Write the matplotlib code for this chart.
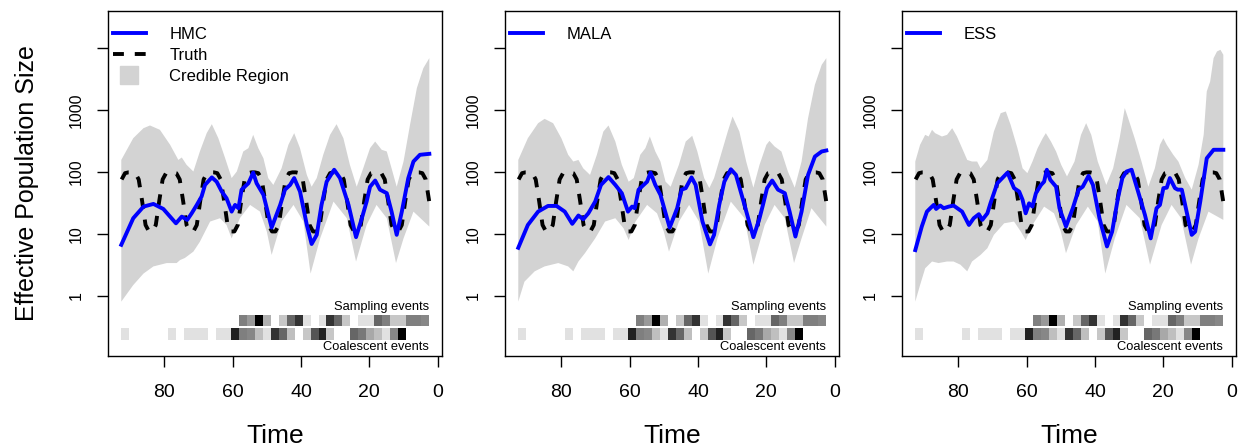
import matplotlib.pyplot as plt
import numpy as np
from matplotlib.lines import Line2D

plt.rcParams['font.family'] = ['Liberation Sans', 'DejaVu Sans']

# ---------- truth (dashed) ----------
truth_t = [2.5, 3.5, 4.5, 5.5, 6.5, 7.5, 8.5, 9.5, 10.5, 11.5, 12.5, 13.5,
           14.5, 15.5, 16.5, 17.5, 18.5, 19.5, 20.5, 21.5, 22.5, 23.5, 24.5, 25.5,
           26.5, 27.5, 28.5, 29.5, 30.5, 31.5, 32.5, 33.5, 34.5, 35.5, 36.5, 37.5,
           38.5, 39.5, 40.5, 41.5, 42.5, 43.5, 44.5, 45.5, 46.5, 47.5, 48.5, 49.5,
           50.5, 51.5, 52.5, 53.5, 54.5, 55.5, 56.5, 57.5, 58.5, 59.5, 60.5, 61.5,
           62.5, 63.5, 64.5, 65.5, 66.5, 67.5, 68.5, 69.5, 70.5, 71.5, 72.5, 73.5,
           74.5, 75.5, 76.5, 77.5, 78.5, 79.5, 80.5, 81.5, 82.5, 83.5, 84.5, 85.5,
           86.5, 87.5, 88.5, 89.5, 90.5, 91.5, 92.5]
truth_v = [34, 76, 96, 99, 99, 96, 76, 34, 14, 11, 11, 14,
           34, 76, 96, 99, 99, 96, 76, 34, 14, 11, 11, 14,
           34, 76, 96, 99, 99, 96, 76, 34, 14, 11, 11, 14,
           34, 76, 96, 99, 99, 96, 76, 34, 14, 11, 11, 14,
           34, 76, 96, 99, 99, 96, 76, 34, 14, 11, 11, 14,
           34, 76, 96, 99, 99, 96, 76, 34, 14, 11, 11, 14,
           34, 76, 96, 99, 99, 96, 76, 34, 14, 11, 11, 14,
           34, 76, 96, 99, 99, 96, 76]

# ---------- HMC ----------
hmc_med_t = [92.6, 89.1, 86.1, 83.2, 80.3, 76.6, 74.9, 73.3, 72.0, 70.5, 69.1, 68.1,
             66.1, 64.7, 63.2, 61.8, 60.3, 59.3, 58.3, 57.4, 55.4, 54.0, 53.0, 51.0,
             48.6, 46.1, 44.7, 43.2, 42.0, 40.3, 38.3, 36.9, 35.4, 34.0, 32.5, 30.3,
             28.6, 26.1, 23.9, 22.2, 20.8, 19.8, 18.3, 16.9, 14.9, 13.5, 12.0, 10.5,
             8.6, 7.1, 5.2, 2.45]
hmc_med_v = [6.7, 18.0, 27.7, 30.6, 25.4, 14.9, 19.1, 16.9, 21.6, 29.5, 40.3, 62,
             82, 70, 48.5, 37.8, 23.0, 29.5, 26.1, 52, 66, 98, 66, 42.9,
             12.7, 29.5, 52, 62, 80, 48.5, 14.0, 6.9, 9.7, 29.5, 70, 109,
             80, 29.5, 8.9, 18.0, 33.4, 58, 73, 52, 45.6, 23.0, 9.7, 23.0,
             80, 148, 190, 197]
hmc_up_t = [92.6, 89.1, 86.1, 84.2, 81.3, 78.3, 75.9, 74.9, 73.5, 71.5, 69.6, 67.6,
            66.1, 64.2, 62.2, 60.3, 58.8, 56.9, 55.4, 54.0, 52.5, 51.0, 49.6, 48.1,
            45.7, 43.7, 42.0, 40.3, 38.3, 36.9, 35.4, 33.5, 31.5, 29.6, 27.6, 25.7,
            23.7, 21.8, 19.8, 18.3, 16.4, 14.9, 13.5, 12.0, 10.0, 8.1, 6.1, 4.2, 2.45]
hmc_up_v = [157, 352, 511, 565, 481, 275, 157, 172, 131, 102, 215, 425,
            593, 352, 167, 80, 102, 215, 243, 399, 243, 167, 80, 62,
            115, 275, 425, 243, 90, 58, 80, 190, 399, 593, 352, 131,
            58, 115, 243, 311, 229, 215, 115, 58, 148, 579, 2265, 4760, 6900]
hmc_lo_t = [92.6, 89.1, 86.1, 83.2, 79.3, 76.4, 75.4, 74.0, 71.5, 69.6, 66.6, 63.7,
            61.8, 60.3, 57.9, 54.9, 52.0, 50.0, 48.6, 45.7, 42.2, 39.3, 37.2, 34.4,
            30.5, 26.6, 23.9, 20.8, 17.9, 14.9, 12.2, 10.0, 7.1, 2.45]
hmc_lo_v = [0.81, 1.5, 2.3, 3.0, 3.4, 3.4, 3.8, 4.1, 5.2, 7.5, 15.9, 18.0,
            14.0, 8.5, 18.0, 29.5, 23.0, 10.9, 4.6, 15.9, 29.5, 15.9, 2.3, 8.5,
            33.4, 18.0, 3.6, 14.0, 29.5, 18.0, 3.4, 8.5, 23.0, 13.2]

# ---------- MALA ----------
mala_med_t = [92.6, 89.8, 86.8, 83.9, 81.4, 79.0, 76.8, 75.0, 73.6, 72.1, 70.1, 68.4,
              66.2, 64.2, 62.3, 60.5, 59.3, 58.5, 57.4, 54.9, 53.9, 52.5, 51.0, 48.3,
              46.1, 44.8, 43.6, 41.9, 40.7, 38.7, 36.5, 35.3, 33.8, 32.3, 30.4, 28.9,
              26.4, 23.8, 22.0, 21.0, 19.8, 18.3, 16.6, 14.6, 13.2, 11.5, 9.7, 7.8,
              5.8, 3.8, 2.45]
mala_med_v = [6.0, 14.0, 23.0, 28.4, 28.4, 23.0, 14.6, 19.9, 17.3, 21.6, 33.4, 62,
              83, 62, 45.6, 23.0, 27.7, 26.1, 52, 70, 98, 62, 42.9, 12.7,
              26.1, 52, 55, 82, 62, 15.9, 6.8, 9.7, 29.5, 70, 111, 90,
              29.5, 8.9, 18.0, 29.5, 55, 73, 52, 45.6, 23.0, 9.1, 23.0, 90,
              178, 215, 223]
mala_up_t = [92.6, 89.8, 86.8, 84.9, 82.4, 80.0, 78.0, 76.5, 75.0, 73.6, 71.6, 69.6,
             67.7, 66.2, 64.2, 62.3, 60.3, 58.8, 56.9, 55.4, 54.1, 52.5, 51.0, 49.5,
             48.0, 45.6, 43.6, 41.7, 40.2, 38.2, 36.7, 35.3, 33.3, 31.3, 29.9, 27.9,
             25.9, 23.8, 22.0, 20.0, 19.1, 17.6, 15.6, 13.7, 11.7, 9.7, 7.8, 5.8, 3.8, 2.45]
mala_up_v = [157, 352, 615, 723, 615, 352, 190, 148, 157, 115, 90, 190,
             451, 565, 311, 131, 70, 80, 190, 243, 375, 215, 148, 70,
             58, 131, 311, 385, 215, 80, 55, 80, 190, 451, 789, 451,
             148, 56, 131, 275, 319, 259, 215, 102, 56, 148, 741, 2564, 5395, 6900]
mala_lo_t = [92.6, 90.8, 87.8, 84.9, 80.9, 78.0, 76.5, 75.0, 73.1, 70.1, 67.2, 64.2,
             61.8, 60.3, 58.3, 54.9, 52.0, 50.0, 48.5, 45.6, 42.6, 39.7, 37.0, 34.3,
             30.4, 26.4, 23.8, 20.5, 17.6, 14.6, 11.9, 9.7, 6.8, 2.45]
mala_lo_v = [0.81, 1.7, 2.5, 3.0, 3.4, 3.0, 2.5, 3.6, 4.9, 8.5, 15.9, 18.0,
             12.4, 8.0, 15.9, 29.5, 21.6, 10.9, 5.2, 15.9, 29.5, 15.9, 2.3, 8.5,
             33.4, 18.0, 3.2, 14.0, 29.5, 18.0, 3.4, 8.5, 26.1, 13.2]

# ---------- ESS ----------
ess_med_t = [92.6, 90.7, 89.2, 88.2, 87.2, 86.5, 85.3, 84.3, 82.8, 81.4, 78.9, 76.9,
             75.5, 74.0, 73.0, 71.5, 70.6, 68.6, 65.6, 63.7, 62.2, 61.2, 60.3, 59.3,
             58.3, 57.3, 55.8, 54.9, 54.1, 53.1, 51.4, 50.4, 48.5, 46.5, 44.8, 43.6,
             41.9, 40.6, 38.7, 36.5, 35.0, 33.3, 32.0, 30.8, 29.3, 27.4, 25.4, 23.7,
             22.0, 21.0, 20.0, 19.0, 18.1, 16.6, 15.8, 14.6, 13.2, 11.7, 10.7, 9.2,
             7.3, 5.3, 2.45]
ess_med_v = [5.5, 13.2, 23.0, 26.1, 29.5, 25.4, 28.8, 26.1, 27.7, 28.8, 23.0, 14.0,
             18.0, 20.9, 16.9, 21.6, 31.3, 66, 98, 55, 48.5, 35.6, 21.6, 31.3,
             27.7, 45.6, 62, 70, 109, 75, 58, 26.1, 13.2, 26.1, 52, 58,
             87, 62, 18.0, 6.3, 10.9, 37.8, 80, 102, 109, 48.5, 20.4, 8.5,
             26.1, 29.5, 55, 56, 80, 55, 52, 52, 23.0, 9.7, 10.9, 33.4,
             167, 229, 229]
ess_up_t = [92.6, 91.2, 89.7, 88.7, 87.7, 86.8, 84.8, 83.3, 81.8, 80.4, 78.9, 77.4,
            76.0, 74.5, 73.5, 71.5, 69.6, 67.6, 66.1, 64.7, 62.7, 61.2, 59.8, 58.3,
            56.8, 55.3, 54.4, 52.9, 51.4, 49.9, 48.2, 46.0, 44.1, 42.6, 41.1, 39.2,
            36.7, 34.7, 32.8, 31.3, 30.3, 28.4, 26.4, 24.4, 22.5, 21.0, 20.0, 19.0,
            17.1, 15.6, 13.6, 11.7, 9.7, 8.2, 7.3, 6.3, 5.3, 4.3, 3.3, 2.45]
ess_up_v = [148, 275, 399, 375, 481, 425, 375, 399, 511, 375, 243, 157,
            148, 148, 115, 157, 451, 893, 951, 579, 243, 115, 96, 148,
            243, 352, 425, 311, 215, 131, 85, 148, 399, 616, 399, 148,
            62, 115, 352, 1076, 741, 352, 148, 58, 115, 275, 352, 275,
            190, 148, 80, 52, 131, 399, 2000, 2900, 6900, 8850, 9420, 7820]
ess_lo_t = [92.6, 91.2, 89.7, 87.7, 85.8, 83.3, 81.4, 79.4, 77.4, 76.0, 73.5, 71.5,
            69.6, 66.6, 63.7, 61.7, 60.3, 58.3, 54.9, 52.0, 50.0, 48.5, 45.5, 42.1,
            39.2, 37.0, 34.2, 30.8, 26.9, 23.9, 20.5, 17.6, 14.8, 11.9, 9.7, 6.8, 2.45]
ess_lo_v = [0.81, 1.5, 2.8, 3.6, 3.4, 3.6, 3.6, 3.2, 2.5, 3.6, 4.6, 5.9,
            9.7, 14.9, 15.9, 10.9, 8.0, 14.0, 27.7, 21.6, 10.9, 4.9, 14.0, 27.7,
            15.9, 2.3, 8.5, 29.5, 18.0, 3.2, 14.0, 29.5, 18.0, 3.2, 8.5, 23.0, 16.9]

# ---------- event heat strips (darkness, 0 = no event), 39 bins, oldest first ----------
sampling_shade = [0, 0, 0, 0, 0, 0, 0, 0, 0, 0, 0, 0, 0, 0, 0,
                  0.5, 0.4, 1.0, 0.31, 0, 0.22, 0.6, 0.8, 0.12, 0, 0.12, 0.8, 0.6,
                  0.22, 0, 0.12, 0.12, 0.6, 0.5, 0.22, 0.22, 0.5, 0.5, 0.47]
coalescent_shade = [0.12, 0, 0, 0, 0, 0, 0.12, 0, 0.12, 0.12, 0.12, 0, 0.12, 0.12,
                    0.87, 0.5, 0.47, 0.25, 0.12, 0.8, 0.6, 0.25, 0, 0.22, 0.67, 0.87,
                    0.22, 0, 0, 0.6, 0.53, 0.34, 0.25, 0.12, 0.47, 1.0, 0, 0, 0]

methods = ['HMC', 'MALA', 'ESS']
panels = [
    (hmc_med_t, hmc_med_v, hmc_up_t, hmc_up_v, hmc_lo_t, hmc_lo_v),
    (mala_med_t, mala_med_v, mala_up_t, mala_up_v, mala_lo_t, mala_lo_v),
    (ess_med_t, ess_med_v, ess_up_t, ess_up_v, ess_lo_t, ess_lo_v),
]

fig = plt.figure(figsize=(12.39, 4.48), dpi=100)
W, H = 1239.0, 448.0
t_start, t_end = 92.8, 2.44
bin_edges = np.linspace(t_start, t_end, len(sampling_shade) + 1)

for i, (name, (mt, mv, ut, uv, lt, lv)) in enumerate(zip(methods, panels)):
    left = 108.3 + 397 * i
    ax = fig.add_axes([left / W, (H - 356) / H, 333.4 / W, 345 / H])

    # credible region polygon
    poly_t = list(ut) + list(lt)[::-1]
    poly_v = list(uv) + list(lv)[::-1]
    ax.fill(poly_t, poly_v, color='lightgray', lw=0, zorder=1)
    ax.plot(truth_t, truth_v, color='black', lw=2.8, ls=(0, (2.8, 2.8)), zorder=2)
    ax.plot(mt, mv, color='blue', lw=2.8, zorder=3, solid_joinstyle='round')

    # event strips
    samp = np.ma.masked_equal([sampling_shade], 0)
    coal = np.ma.masked_equal([coalescent_shade], 0)
    ax.pcolormesh(bin_edges, [0.332, 0.493], samp, cmap='gray_r', vmin=0, vmax=1,
                  shading='flat', antialiased=False, zorder=2)
    ax.pcolormesh(bin_edges, [0.197, 0.30], coal, cmap='gray_r', vmin=0, vmax=1,
                  shading='flat', antialiased=False, zorder=2)
    ax.text(t_end, 0.66, 'Sampling events', ha='right', va='center', fontsize=9.3)
    ax.text(t_end, 0.152, 'Coalescent events', ha='right', va='center', fontsize=9.3)

    ax.set_yscale('log')
    ax.set_xlim(96.4, -1.17)
    ax.set_ylim(10 ** -0.969, 10 ** 4.60)
    ax.set_xticks([80, 60, 40, 20, 0])
    ax.set_xticklabels(['80', '60', '40', '20', '0'], fontsize=14)
    ax.set_yticks([1, 10, 100, 1000, 10000])
    ax.set_yticklabels(['1', '10', '100', '1000', ''], fontsize=11.5, rotation=90, va='center')
    ax.minorticks_off()
    ax.tick_params(axis='both', direction='out', length=8, width=1, colors='black')
    ax.tick_params(axis='y', pad=10)
    ax.tick_params(axis='x', pad=12)
    for sp in ax.spines.values():
        sp.set_linewidth(1.0)

    ax.set_xlabel('Time', fontsize=19, labelpad=17)

    # legend
    handles = [Line2D([], [], color='blue', lw=2.8)]
    labels = [name]
    if i == 0:
        handles += [Line2D([], [], color='black', lw=2.8, ls=(0, (2.8, 2.8))),
                    Line2D([], [], marker='s', ms=13, color='lightgray', ls='none')]
        labels += ['Truth', 'Credible Region']
    ax.legend(handles, labels, loc='upper left', frameon=False, fontsize=12,
              bbox_to_anchor=(4.5 / 333.4, 1 - 16 / 345), borderaxespad=0, borderpad=0,
              handlelength=2.0, handletextpad=1.4, labelspacing=0.35)

fig.text(27 / W, (H - 183.5) / H, 'Effective Population Size', rotation=90,
         ha='center', va='center', fontsize=18)

fig.savefig('out.png', dpi=100)
